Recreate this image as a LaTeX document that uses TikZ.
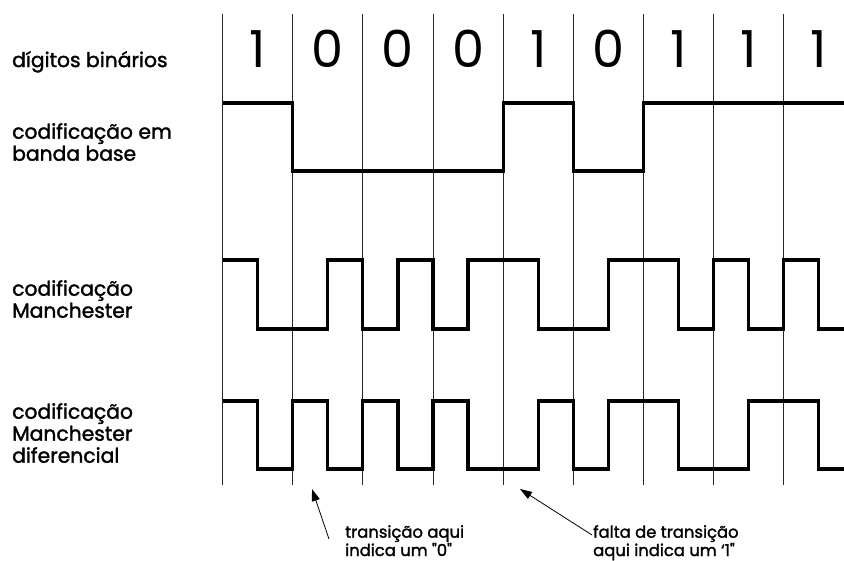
\documentclass[tikz,border=0pt]{standalone}
\usepackage{fontspec}
\setmainfont{Poppins}
\newfontfamily\heavyfont{Poppins}[FakeBold=1.6]
\usetikzlibrary{arrows.meta}
\tikzset{
  grid/.style={line width=0.8pt, black!85},
  signal/.style={line width=3.2pt, line join=miter, line cap=butt},
  label/.style={anchor=north west, inner sep=0pt, align=left, font=\heavyfont\fontsize{20.3}{22}\selectfont},
  digit/.style={anchor=base, inner sep=0pt, font=\fontsize{51}{51}\selectfont},
  note/.style={anchor=north west, inner sep=0pt, align=left, font=\heavyfont\fontsize{16.4}{14.2}\selectfont},
  arr/.style={line width=0.8pt, -{Triangle[length=12pt,width=8pt]}}
}
\begin{document}
\begin{tikzpicture}[x=1pt,y=-1pt]
\useasboundingbox (0,0) rectangle (844,561);
% vertical grid lines
\foreach \k in {0,...,8}{
  \draw[grid] ({222.5+70.15*\k},14) -- ({222.5+70.15*\k},485);
}
% digits
\foreach \d [count=\i from 0] in {1,0,0,0,1,0,1,1,1}{
  \node[digit] (d\i) at ({257.6+70.15*\i},67.5) {\d};
}
% labels
\node[label] (l1) at (12,51) {dígitos binários};
\node[label] (l2) at (12,123) {codificação em\\banda base};
\node[label] (l3) at (12,280) {codificação\\Manchester};
\node[label] (l4) at (12,403) {codificação\\Manchester\\diferencial};
% baseband
\draw[signal] (222.5,103) -- (292.65,103) -- (292.65,171) -- (503.1,171) -- (503.1,103)
  -- (573.25,103) -- (573.25,171) -- (643.4,171) -- (643.4,103) -- (844,103);
% Manchester
\draw[signal] (222.5,260) -- (257.6,260) -- (257.6,329) -- (327.7,329) -- (327.7,260)
  -- (362.8,260) -- (362.8,329) -- (397.9,329) -- (397.9,260) -- (432.95,260)
  -- (432.95,329) -- (468,329) -- (468,260) -- (538.2,260) -- (538.2,329)
  -- (608.3,329) -- (608.3,260) -- (678.5,260) -- (678.5,329) -- (713.55,329)
  -- (713.55,260) -- (748.6,260) -- (748.6,329) -- (783.7,329) -- (783.7,260)
  -- (818.8,260) -- (818.8,329) -- (844,329);
% differential Manchester
\draw[signal] (222.5,401) -- (257.6,401) -- (257.6,469) -- (292.65,469) -- (292.65,401)
  -- (327.7,401) -- (327.7,469) -- (362.8,469) -- (362.8,401) -- (397.9,401)
  -- (397.9,469) -- (432.95,469) -- (432.95,401) -- (468,401) -- (468,469)
  -- (538.2,469) -- (538.2,401) -- (573.25,401) -- (573.25,469) -- (608.3,469)
  -- (608.3,401) -- (678.5,401) -- (678.5,469) -- (748.6,469) -- (748.6,401)
  -- (818.8,401) -- (818.8,469) -- (844,469);
% notes
\node[note] (n1) at (345,525) {transição aqui\\indica um "0"};
\node[note] (n2) at (593,525) {falta de transição\\aqui indica um ‘1"};
\coordinate (t1) at (329,539);
\coordinate (h1) at (312,489);
\coordinate (t2) at (592,535);
\coordinate (h2) at (520,489);
\draw[arr] (t1) -- (h1);
\draw[arr] (t2) -- (h2);
\end{tikzpicture}
\end{document}
